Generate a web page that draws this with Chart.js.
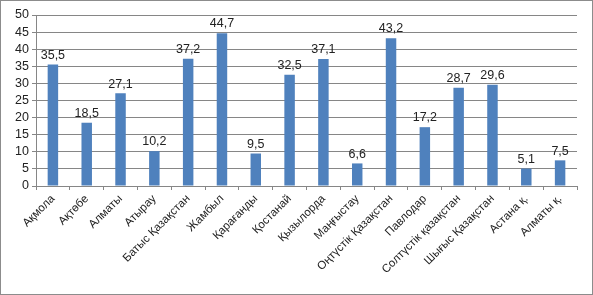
<!DOCTYPE html>
<html>
<head>
<meta charset="utf-8">
<script src="https://cdn.jsdelivr.net/npm/chart.js@4"></script>
<style>
    html, body { margin: 0; padding: 0; background: #fff; }
    #wrap { position: relative; width: 591px; height: 293px; border: 1px solid #8c8c8c; }
    canvas { display: block; }
</style>
</head>
<body>
<div id="wrap"><canvas id="chart" width="591" height="293"></canvas></div>
<script>
// Regions and values
const regions = ['Ақмола', 'Ақтөбе', 'Алматы', 'Атырау', 'Батыс Қазақстан', 'Жамбыл', 'Қарағанды', 'Қостанай',
    'Қызылорда', 'Маңғыстау', 'Оңтүстік Қазақстан', 'Павлодар', 'Солтүстік қазақстан', 'Шығыс Қазақстан', 'Астана қ.', 'Алматы қ.'];
const values = [35.5, 18.5, 27.1, 10.2, 37.2, 44.7, 9.5, 32.5, 37.1, 6.6, 43.2, 17.2, 28.7, 29.6, 5.1, 7.5];
const yMax = 50;
const yStep = 5;

const fontFamily = "'Liberation Sans', Arial, sans-serif";

// Values above the bars, with a decimal comma
const valueLabels = {
    id: 'valueLabels',
    afterDatasetsDraw(chart) {
        const ctx = chart.ctx;
        const meta = chart.getDatasetMeta(0);
        ctx.save();
        ctx.font = '12.5px ' + fontFamily;
        ctx.fillStyle = '#222';
        ctx.textAlign = 'center';
        ctx.textBaseline = 'bottom';
        meta.data.forEach((bar, i) => {
            ctx.fillText(values[i].toFixed(1).replace('.', ','), bar.x, bar.y - 3);
        });
        ctx.restore();
    }
};

const ctx = document.getElementById('chart').getContext('2d');
new Chart(ctx, {
    type: 'bar',
    data: {
        labels: regions,
        datasets: [{
            data: values,
            backgroundColor: '#4F81BD',
            borderWidth: 0,
            barPercentage: 0.31,
            categoryPercentage: 1
        }]
    },
    options: {
        responsive: false,
        animation: false,
        layout: { padding: { top: 14, right: 15, left: 0, bottom: 0 } },
        plugins: {
            legend: { display: false },
            tooltip: { enabled: false }
        },
        scales: {
            x: {
                offset: true,
                grid: {
                    offset: true,
                    drawOnChartArea: false,
                    color: '#868686',
                    tickLength: 4
                },
                border: { color: '#868686' },
                ticks: {
                    maxRotation: 45,
                    minRotation: 45,
                    autoSkip: false,
                    color: '#222',
                    font: { family: fontFamily, size: 11.5 },
                    padding: 2
                },
                afterFit(scale) { scale.height = 108; }
            },
            y: {
                min: 0,
                max: yMax,
                grid: {
                    color: '#868686',
                    tickLength: 4
                },
                border: { color: '#868686' },
                ticks: {
                    stepSize: yStep,
                    autoSkip: false,
                    color: '#222',
                    font: { family: fontFamily, size: 12.5 },
                    padding: 3
                },
                afterFit(scale) { scale.width = 35; }
            }
        }
    },
    plugins: [valueLabels]
});
</script>
</body>
</html>
